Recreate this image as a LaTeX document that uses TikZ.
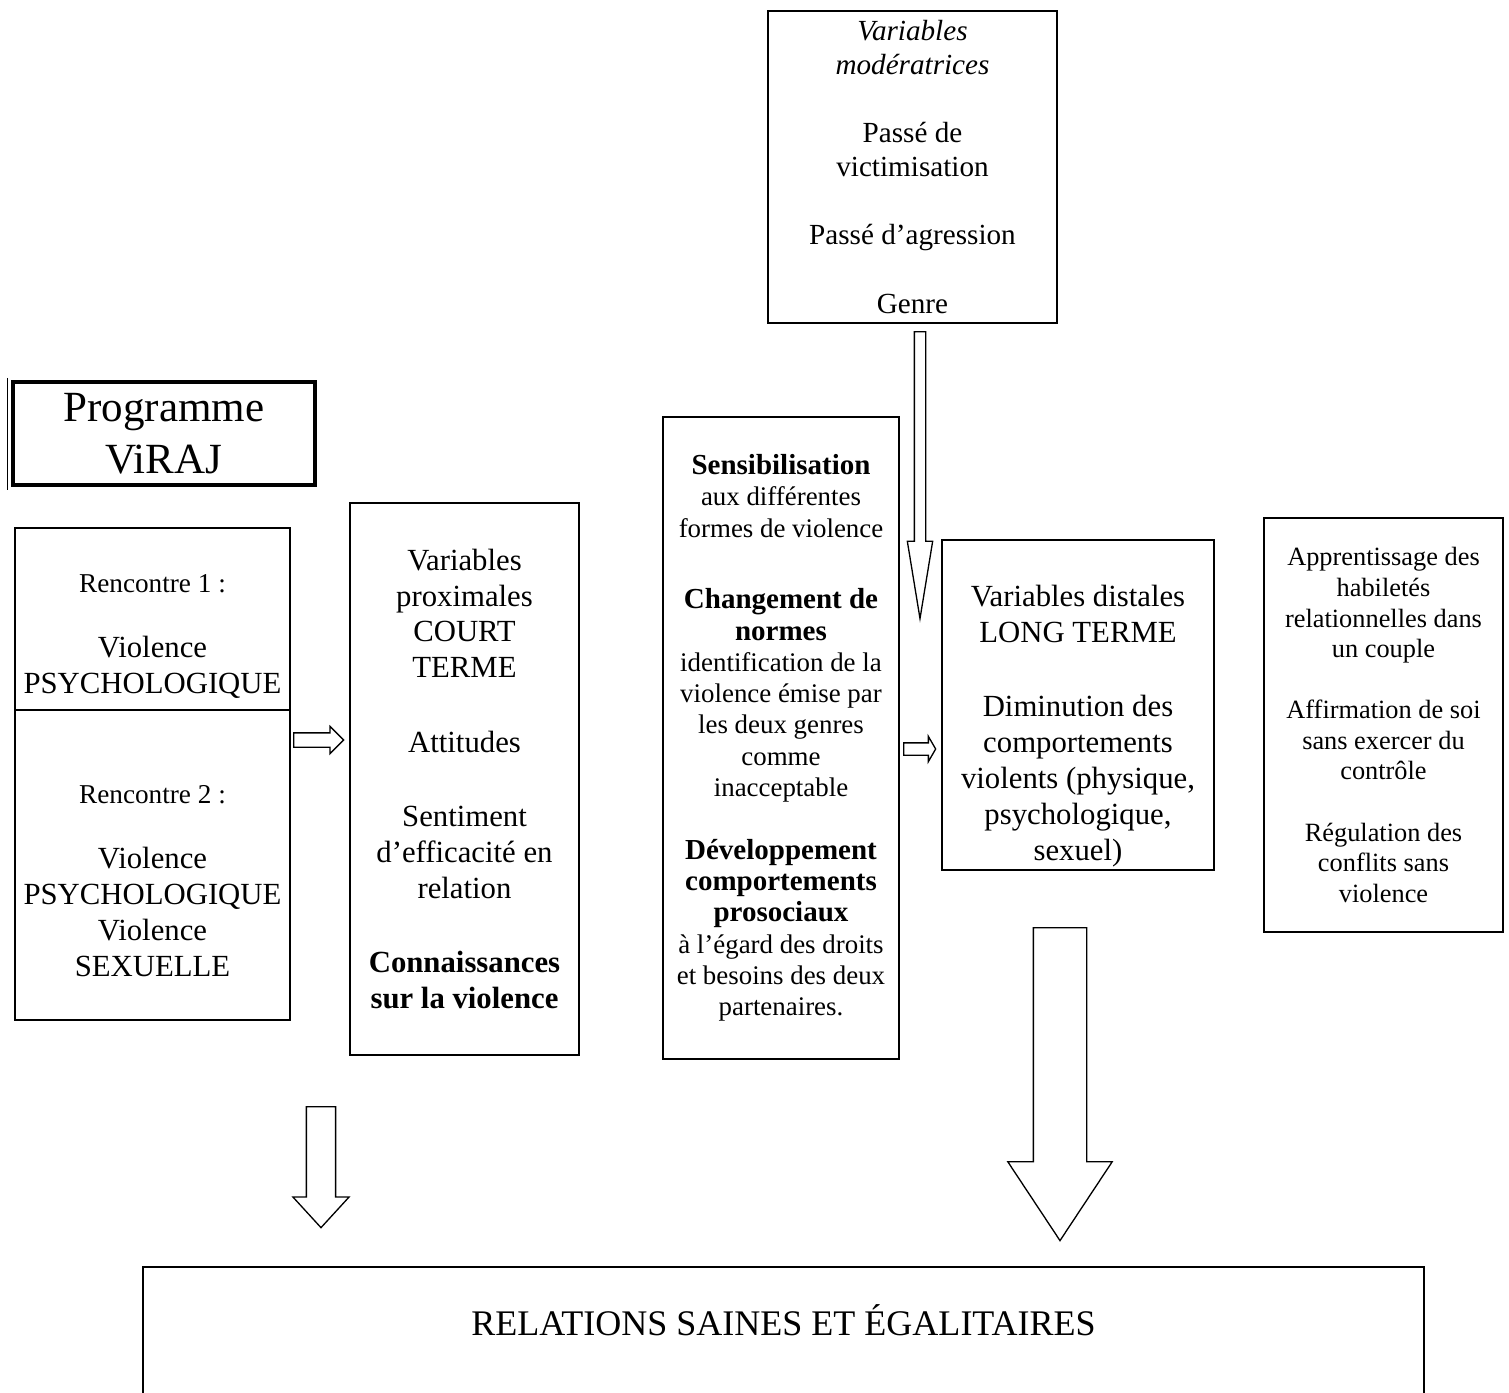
\documentclass[tikz,border=0pt]{standalone}
\usepackage{fontspec}
\setmainfont{Liberation Serif}
\usetikzlibrary{shapes.arrows}
\newcommand{\gras}[1]{{\fontsize{16.5}{17.8}\selectfont\bfseries #1}}

\begin{document}
\begin{tikzpicture}[x=0.02cm, y=-0.02cm,
    fatarrow/.style={draw, line width=0.75pt, single arrow,
        single arrow head indent=0pt, anchor=tail}]
\tikzset{box/.style={draw, line width=1.1pt, align=center, inner sep=2pt}}
\tikzset{big/.style={font=\fontsize{17.5}{20.4}\selectfont},
         small/.style={font=\fontsize{15.3}{17.8}\selectfont},
         txt/.style={align=center, inner sep=0pt}}
\useasboundingbox (0,0) rectangle (1509,1393);

% boites
\node[box, font=\fontsize{16.6}{19.3}\selectfont,
      minimum width=5.78cm, minimum height=6.24cm] (moder) at (912.5,167)
    {\textit{Variables}\\\textit{modératrices}\\[19.5pt]
     Passé de\\victimisation\\[19.5pt]
     Passé d’agression\\[19.5pt]
     Genre};
\node[box, line width=2.3pt, font=\fontsize{24.5}{29.5}\selectfont,
      minimum width=6.04cm, minimum height=2.06cm] (prog) at (164,433.5)
    {Programme\\ViRAJ};
\draw[line width=0.6pt] ([xshift=-0.07cm, yshift=0.04cm]prog.north west)
    -- ([xshift=-0.07cm, yshift=-0.06cm]prog.south west);

\node[box, minimum width=5.5cm, minimum height=3.64cm] (ren1) at (152.5,619) {};
\node[txt, big] (ren1-t) at ([yshift=-0.35cm]ren1.center)
    {{\fontsize{15.5}{17.8}\selectfont Rencontre 1 :}\\[17pt]
     Violence\\PSYCHOLOGIQUE};
\node[box, minimum width=5.5cm, minimum height=6.2cm] (ren2) at (152.5,865) {};
\node[txt, big] (ren2-t) at ([yshift=-0.32cm]ren2.center)
    {{\fontsize{15.5}{17.8}\selectfont Rencontre 2 :}\\[17pt]
     Violence\\PSYCHOLOGIQUE\\Violence\\SEXUELLE};

\node[box, big, minimum width=4.58cm, minimum height=11.04cm] (prox) at (464.5,779)
    {Variables\\proximales\\COURT\\TERME\\[22pt]
     Attitudes\\[22pt]
     Sentiment\\d’efficacité en\\relation\\[22pt]
     \textbf{Connaissances}\\\textbf{sur la violence}};

\node[box, small, minimum width=4.72cm, minimum height=12.84cm] (mid) at (781,738)
    {\gras{Sensibilisation}\\aux différentes\\formes de violence\\[23pt]
     \gras{Changement de}\\\gras{normes}\\identification de la\\violence émise par\\
     les deux genres\\comme\\inacceptable\\[18pt]
     \gras{Développement}\\\gras{comportements}\\\gras{prosociaux}\\
     à l’égard des droits\\et besoins des deux\\partenaires.};

\node[box, minimum width=5.44cm, minimum height=6.6cm] (dist) at (1078,705) {};
\node[txt, big] (dist-t) at ([yshift=-0.42cm]dist.center)
    {Variables distales\\LONG TERME\\[22pt]
     Diminution des\\comportements\\violents (physique,\\psychologique,\\sexuel)};

\node[box, font=\fontsize{15}{17.4}\selectfont,
      minimum width=4.78cm, minimum height=8.28cm] (hab) at (1383.5,725)
    {Apprentissage des\\habiletés\\relationnelles dans\\un couple\\[17.4pt]
     Affirmation de soi\\sans exercer du\\contrôle\\[17.4pt]
     Régulation des\\conflits sans\\violence};

\node[font=\fontsize{20.5}{23.6}\selectfont,
      minimum width=25.62cm, minimum height=2.12cm] (rel) at (783.5,1320)
    {RELATIONS SAINES ET ÉGALITAIRES};
\draw[line width=1.1pt] ([yshift=-0.45cm]rel.south west) -- (rel.north west)
    -- (rel.north east) -- ([yshift=-0.45cm]rel.south east);

% fleches
\node[fatarrow, inner sep=0.13cm, minimum height=1cm, minimum width=0.52cm,
      single arrow head extend=0.13cm] (arr1) at (293,740) {};
\node[fatarrow, inner sep=0.11cm, minimum height=0.64cm, minimum width=0.48cm,
      single arrow head extend=0.13cm, single arrow tip angle=120] (arr2) at (903,749) {};
\node[fatarrow, shape border rotate=270, inner sep=0.1cm, minimum height=5.74cm,
      minimum width=0.48cm, single arrow head extend=0.14cm,
      single arrow tip angle=18.6] (arr3) at (920,331) {};
\node[fatarrow, shape border rotate=270, inner sep=0.28cm, minimum height=2.42cm,
      minimum width=1.1cm, single arrow head extend=0.27cm,
      single arrow tip angle=85] (arr4) at (321,1106) {};
\node[fatarrow, shape border rotate=270, inner sep=0.52cm, minimum height=6.26cm,
      minimum width=2.06cm, single arrow head extend=0.51cm,
      single arrow tip angle=67] (arr5) at (1060,927) {};
\end{tikzpicture}
\end{document}
